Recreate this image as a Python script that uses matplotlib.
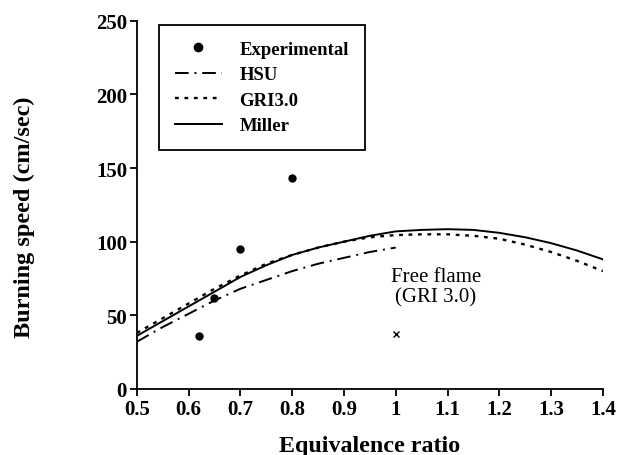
import matplotlib.pyplot as plt
from matplotlib.lines import Line2D

plt.rcParams['font.family'] = ['Liberation Serif', 'DejaVu Serif']

# experimental points
exp_phi = [0.62, 0.65, 0.70, 0.80]
exp_speed = [36, 62, 95, 143]

# free flame (GRI 3.0)
ff_phi = [1.0]
ff_speed = [37]

# Miller
miller_phi = [0.5, 0.55, 0.6, 0.65, 0.7, 0.75, 0.8, 0.85, 0.9, 0.95, 1.0,
              1.05, 1.1, 1.15, 1.2, 1.25, 1.3, 1.35, 1.4]
miller_speed = [36, 46, 56, 66, 76, 84, 91, 96, 100, 104, 107,
                108, 108.5, 108, 106, 103, 99, 94, 88]

# GRI3.0
gri_phi = miller_phi
gri_speed = [38, 48, 58, 68, 77, 85, 91, 96, 100, 103, 104.5,
             105, 105, 104, 102, 98, 93, 87, 80]

# HSU
hsu_phi = [0.5, 0.55, 0.6, 0.65, 0.7, 0.75, 0.8, 0.85, 0.9, 0.95, 1.0]
hsu_speed = [32, 42, 51, 60, 68, 74, 80, 85, 89, 93, 96]

fig = plt.figure(figsize=(6.19, 4.56), dpi=100)
ax = fig.add_axes([0.221, 0.145, 0.753, 0.807])

ax.plot(miller_phi, miller_speed, color='black', lw=1.4, ls='-')
ax.plot(gri_phi, gri_speed, color='black', lw=1.7, ls=(0, (1.6, 2.4)))
ax.plot(hsu_phi, hsu_speed, color='black', lw=1.4, ls=(0, (7, 3, 1, 3)))
ax.plot(exp_phi, exp_speed, 'o', color='black', ms=5)
ax.plot(ff_phi, ff_speed, 'x', color='black', ms=5, mew=1)

ax.text(1.077, 69.5, 'Free flame\n(GRI 3.0)', ha='center', va='center',
        fontsize=15, linespacing=1.1)

ax.set_xlim(0.5, 1.4)
ax.set_ylim(0, 250)
ax.set_xticks([0.5, 0.6, 0.7, 0.8, 0.9, 1.0, 1.1, 1.2, 1.3, 1.4])
ax.set_xticklabels(['0.5', '0.6', '0.7', '0.8', '0.9', '1', '1.1', '1.2', '1.3', '1.4'])
ax.set_yticks([0, 50, 100, 150, 200, 250])

for s in ['top', 'right']:
    ax.spines[s].set_visible(False)
ax.spines['left'].set_linewidth(1.3)
ax.spines['bottom'].set_linewidth(1.3)
ax.tick_params(direction='out', length=5, width=1.3, labelsize=15, pad=2)
for lab in ax.get_xticklabels() + ax.get_yticklabels():
    lab.set_fontweight('bold')

ax.set_xlabel('Equivalence ratio', fontsize=17.3, fontweight='bold', labelpad=12)
ax.set_ylabel('Burning speed (cm/sec)', fontsize=17.5, fontweight='bold')
ax.yaxis.set_label_coords(-0.219, 0.47)

handles = [
    Line2D([], [], ls='none', marker='o', color='black', ms=6),
    Line2D([], [], color='black', lw=1.4, ls=(0, (7, 3, 1, 3))),
    Line2D([], [], color='black', lw=1.7, ls=(0, (1.6, 2.4))),
    Line2D([], [], color='black', lw=1.4, ls='-'),
]
leg = ax.legend(handles, ['Experimental', 'HSU', 'GRI3.0', 'Miller'],
                loc='upper left', bbox_to_anchor=(0.047, 0.99),
                prop={'weight': 'bold', 'size': 13.5}, fancybox=False,
                edgecolor='black', framealpha=1, handlelength=2.5,
                borderpad=0.85, labelspacing=0.45, handletextpad=0.95,
                borderaxespad=0)
leg.get_frame().set_linewidth(1.3)

fig.savefig('out.png', dpi=100)
